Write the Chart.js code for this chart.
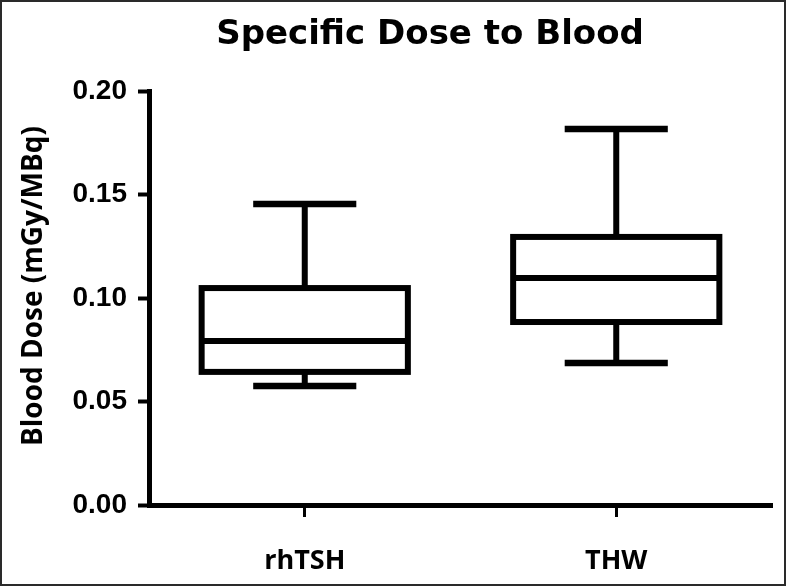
<!DOCTYPE html>
<html>
<head>
<meta charset="utf-8">
<script src="https://cdn.jsdelivr.net/npm/chart.js@4"></script>
<style>
  html, body { margin: 0; padding: 0; background: #fff; }
  #wrap { position: relative; width: 786px; height: 586px; }
  #frame { position: absolute; left: 0; top: 0; width: 786px; height: 586px; box-sizing: border-box; border: 2px solid #2a2a2a; pointer-events: none; }
  canvas { display: block; }
</style>
</head>
<body>
<div id="wrap">
  <canvas id="c" width="786" height="586"></canvas>
  <div id="frame"></div>
</div>
<script>
// ---- data ----
const chartTitle = 'Specific Dose to Blood';
const yAxisTitle = 'Blood Dose (mGy/MBq)';
const categories = ['rhTSH', 'THW'];
const whiskerLow = [0.0575, 0.0686];
const q1Values = [0.0643, 0.0884];
const medianValues = [0.0792, 0.1097];
const q3Values = [0.1048, 0.1295];
const whiskerHigh = [0.1454, 0.1816];
const yTickValues = [0, 0.05, 0.10, 0.15, 0.20];
const yTickLabels = ['0.00', '0.05', '0.10', '0.15', '0.20'];

const boxData = categories.map((c, i) => [q1Values[i], q3Values[i]]);

const TITLE_FONT = '"DejaVu Sans", sans-serif';
const TICK_FONT = '"Liberation Sans", Arial, sans-serif';
const LABEL_FONT = '"Open Sans", sans-serif';

const boxPlotPlugin = {
  id: 'boxPlot',
  afterDatasetsDraw(chart) {
    const ctx = chart.ctx;
    const y = chart.scales.y;
    const meta = chart.getDatasetMeta(0);
    ctx.save();
    ctx.strokeStyle = '#000';
    ctx.lineCap = 'butt';
    meta.data.forEach((bar, i) => {
      const cx = bar.x;
      const w = bar.width;
      const xl = cx - w / 2, xr = cx + w / 2;
      const yq1 = y.getPixelForValue(q1Values[i]);
      const yq3 = y.getPixelForValue(q3Values[i]);
      const ymed = y.getPixelForValue(medianValues[i]);
      const ylo = y.getPixelForValue(whiskerLow[i]);
      const yhi = y.getPixelForValue(whiskerHigh[i]);
      const capHalf = w * 0.25;
      ctx.lineWidth = 6;
      ctx.beginPath();
      ctx.moveTo(cx, yq3); ctx.lineTo(cx, yhi);
      ctx.moveTo(cx, yq1); ctx.lineTo(cx, ylo);
      ctx.stroke();
      ctx.lineWidth = 6.5;
      ctx.beginPath();
      ctx.moveTo(cx - capHalf, yhi); ctx.lineTo(cx + capHalf, yhi);
      ctx.moveTo(cx - capHalf, ylo); ctx.lineTo(cx + capHalf, ylo);
      ctx.stroke();
      ctx.lineWidth = 6;
      ctx.fillStyle = '#fff';
      ctx.fillRect(xl, yq3, w, yq1 - yq3);
      ctx.strokeRect(xl, yq3, w, yq1 - yq3);
      ctx.beginPath();
      ctx.moveTo(xl, ymed); ctx.lineTo(xr, ymed);
      ctx.stroke();
    });
    ctx.restore();
  }
};

const textPlugin = {
  id: 'plainTexts',
  afterDraw(chart) {
    const ctx = chart.ctx;
    ctx.save();
    ctx.fillStyle = '#000';
    ctx.font = 'bold 34px ' + TITLE_FONT;
    ctx.textAlign = 'center';
    ctx.textBaseline = 'alphabetic';
    ctx.fillText(chartTitle, 430, 44);
    ctx.translate(34, 286);
    ctx.rotate(-Math.PI / 2);
    ctx.font = 'bold 28px ' + LABEL_FONT;
    ctx.textBaseline = 'middle';
    ctx.fillText(yAxisTitle, 0, 0);
    ctx.restore();
  }
};

new Chart(document.getElementById('c'), {
  type: 'bar',
  data: {
    labels: categories,
    datasets: [{
      label: 'Blood dose',
      data: boxData,
      backgroundColor: 'rgba(255,255,255,0)',
      borderWidth: 0,
      barPercentage: 0.662,
      categoryPercentage: 1.0
    }]
  },
  options: {
    responsive: false,
    animation: false,
    devicePixelRatio: 1,
    layout: { padding: { top: 91, right: 14, bottom: 0, left: 0 } },
    plugins: {
      legend: { display: false },
      tooltip: { enabled: false },
      title: { display: false }
    },
    scales: {
      x: {
        type: 'category',
        offset: true,
        grid: { display: true, drawOnChartArea: false, drawTicks: true, tickLength: 12, tickWidth: 3, tickColor: '#000', offset: false },
        border: { display: true, color: '#000', width: 5 },
        ticks: { color: '#000', padding: 28, font: { family: LABEL_FONT, size: 27, weight: 'bold' } },
        afterFit(scale) { scale.height = 81; }
      },
      y: {
        min: 0,
        max: 0.20,
        afterBuildTicks(scale) { scale.ticks = yTickValues.map(v => ({ value: v })); },
        grid: { display: true, drawOnChartArea: false, drawTicks: true, tickLength: 11, tickWidth: 4, tickColor: '#000' },
        border: { display: true, color: '#000', width: 5 },
        ticks: {
          color: '#000',
          padding: 11,
          font: { family: TICK_FONT, size: 28, weight: 'bold' },
          callback(value, index) { return yTickLabels[index]; }
        },
        afterFit(scale) { scale.width = 149; }
      }
    }
  },
  plugins: [boxPlotPlugin, textPlugin]
});
</script>
</body>
</html>
